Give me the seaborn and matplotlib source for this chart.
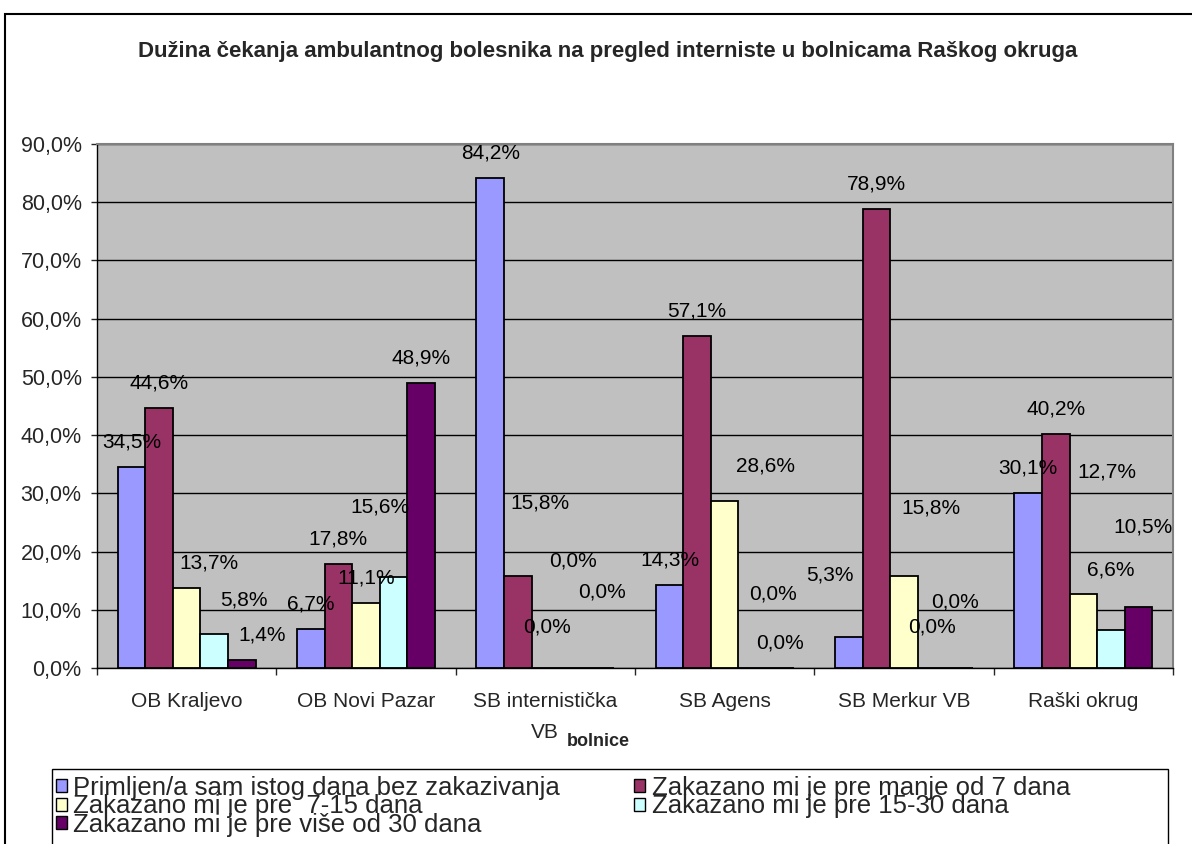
#!/usr/bin/env python3

import matplotlib
matplotlib.use("Agg")
import matplotlib.pyplot as plt
from matplotlib.patches import Patch, Rectangle
import numpy as np
import pandas as pd
import seaborn as sns

W, H = 1192, 844

# categories and series
bolnice = ["OB Kraljevo", "OB Novi Pazar", "SB internistička\nVB",
           "SB Agens", "SB Merkur VB", "Raški okrug"]
serije = [
    "Primljen/a sam istog dana bez zakazivanja",
    "Zakazano mi je pre manje od 7 dana",
    "Zakazano mi je pre  7-15 dana",
    "Zakazano mi je pre 15-30 dana",
    "Zakazano mi je pre više od 30 dana",
]
primljen = [34.5, 6.7, 84.2, 14.3, 5.3, 30.1]
manje_7 = [44.6, 17.8, 15.8, 57.1, 78.9, 40.2]
od_7_15 = [13.7, 11.1, 0.0, 28.6, 15.8, 12.7]
od_15_30 = [5.8, 15.6, 0.0, 0.0, 0.0, 6.6]
vise_30 = [1.4, 48.9, 0.0, 0.0, 0.0, 10.5]

boje = ["#9999FF", "#993366", "#FFFFCC", "#CCFFFF", "#660066"]

# excel moved some data labels by hand; (dx, dy) in pixels, up is positive
label_shift = {
    (0, 2): (22, 0), (0, 3): (30, 9), (0, 4): (20, 0),
    (1, 3): (-14, 45),
    (2, 1): (22, 48), (2, 2): (28, 82), (2, 3): (29, 51), (2, 4): (-54, 16),
    (3, 2): (41, 10), (3, 3): (21, 49),
    (4, 0): (-19, 37), (4, 2): (27, 43), (4, 3): (23, 41), (4, 4): (-27, 16),
    (5, 2): (24, 97), (5, 3): (0, 35), (5, 4): (4, 55),
}

vrijednosti = [primljen, manje_7, od_7_15, od_15_30, vise_30]
df = pd.DataFrame({
    "bolnica": bolnice * len(serije),
    "serija": np.repeat(serije, len(bolnice)),
    "procenat": np.concatenate(vrijednosti),
})

sns.set_style("white")
plt.rcParams["font.family"] = ["Liberation Sans", "DejaVu Sans"]

fig = plt.figure(figsize=(W / 100, H / 100), dpi=100)
ax = fig.add_axes([97 / W, 1 - 668 / H, (1173 - 97) / W, (668 - 144) / H])
ax.set_facecolor("#C0C0C0")
ax.set_axisbelow(True)
ax.yaxis.grid(True, color="black", linewidth=1)

sns.barplot(data=df, x="bolnica", y="procenat", hue="serija",
            hue_order=serije, order=bolnice, palette=boje,
            width=5 / 6.5, edgecolor="black", linewidth=1.3,
            saturation=1, legend=False, ax=ax)

ax.set_xlim(-0.5, len(bolnice) - 0.5)
ax.set_ylim(0, 90)
ax.set_yticks(np.arange(0, 91, 10))
ax.set_yticklabels([f"{v:.1f}%".replace(".", ",") for v in np.arange(0, 91, 10)])
ax.tick_params(axis="y", length=4, width=1, pad=7, labelsize=15.5, left=True)
ax.tick_params(axis="x", which="major", length=0, pad=17, labelsize=15)
ax.set_xticks(np.arange(-0.5, len(bolnice)), minor=True)
ax.tick_params(axis="x", which="minor", length=5, width=1, bottom=True)
for t in ax.get_xticklabels():
    t.set_linespacing(1.8)

for s in ["left", "bottom"]:
    ax.spines[s].set_color("black")
    ax.spines[s].set_linewidth(1)
for s in ["top", "right"]:
    ax.spines[s].set_color("#808080")
    ax.spines[s].set_linewidth(1.5)

# data labels
for k, cont in enumerate(ax.containers):
    for i, bar in enumerate(cont):
        v = vrijednosti[k][i]
        dx, dy = label_shift.get((i, k), (0, 0))
        ax.annotate(f"{v:.1f}%".replace(".", ","),
                    (bar.get_x() + bar.get_width() / 2, bar.get_height()),
                    xytext=(dx, 25 + dy), textcoords="offset pixels",
                    ha="center", va="center", fontsize=15, color="black")

ax.set_xlabel("bolnice", fontsize=13, fontweight="bold")
ax.set_ylabel("")
ax.xaxis.label.set_va("center")
ax.xaxis.set_label_coords((598 - 97) / 1076, (668 - 741) / 524)

fig.text(608 / W, 1 - 52 / H,
         "Dužina čekanja ambulantnog bolesnika na pregled interniste u bolnicama Raškog okruga",
         ha="center", va="center", fontsize=16, fontweight="bold")

# outer chart frame and legend box
fig.patches.append(Rectangle((5 / W, -0.1), 1.2, 1.1 - 14 / H,
                             transform=fig.transFigure, fill=False,
                             edgecolor="black", linewidth=1.5))
fig.patches.append(Rectangle((52 / W, -0.1), (1168 - 52) / W, 0.1 + 1 - 769 / H,
                             transform=fig.transFigure, fill=False,
                             edgecolor="black", linewidth=1))

handles = [Patch(facecolor=c, edgecolor="black", linewidth=1) for c in boje]
order = [0, 2, 4, 1, 3]
fig.legend([handles[j] for j in order], [serije[j] for j in order],
           ncol=2, loc="upper left", bbox_to_anchor=(56 / W, 1 - 776 / H),
           frameon=False, fontsize=18.5, handlelength=0.42, handleheight=0.42,
           handletextpad=0.25, labelspacing=-0.22, columnspacing=2.9,
           borderpad=0, borderaxespad=0)

fig.savefig("out.png", dpi=100)
